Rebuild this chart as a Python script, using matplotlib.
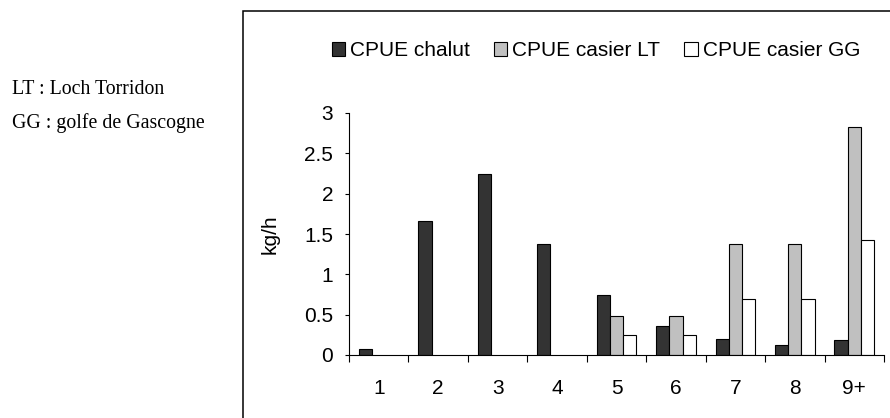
import numpy as np
import matplotlib
matplotlib.use("Agg")
import matplotlib.pyplot as plt
from matplotlib.patches import Rectangle

# data (kg/h)
categories = ["1", "2", "3", "4", "5", "6", "7", "8", "9+"]
cpue_chalut = [0.07, 1.66, 2.25, 1.37, 0.74, 0.36, 0.20, 0.13, 0.19]
cpue_casier_lt = [np.nan, np.nan, np.nan, np.nan, 0.48, 0.48, 1.37, 1.37, 2.83]
cpue_casier_gg = [np.nan, np.nan, np.nan, np.nan, 0.25, 0.25, 0.70, 0.70, 1.42]

series = [
    ("CPUE chalut", cpue_chalut, "#333333"),
    ("CPUE casier LT", cpue_casier_lt, "#c0c0c0"),
    ("CPUE casier GG", cpue_casier_gg, "#ffffff"),
]

plt.rcParams["font.family"] = ["Liberation Sans", "DejaVu Sans"]

W, H = 890, 418
fig = plt.figure(figsize=(W / 100, H / 100), dpi=100)

# axes placed in pixel terms of the reference
ax = fig.add_axes([349 / W, 1 - 355 / H, (884 - 349) / W, (355 - 113) / H])

x = np.arange(len(categories))
width = 0.222
for i, (name, vals, col) in enumerate(series):
    ax.bar(x + (i - 1) * width, vals, width, color=col, edgecolor="black",
           linewidth=0.8, label=name)

ax.set_xlim(-0.5, len(categories) - 0.5)
ax.set_ylim(0, 3)
ax.set_yticks([0, 0.5, 1, 1.5, 2, 2.5, 3])
ax.set_yticklabels(["0", "0.5", "1", "1.5", "2", "2.5", "3"])

# tick marks between categories, labels centred under groups
ax.set_xticks(np.arange(-0.5, len(categories)), labels=[""] * (len(categories) + 1))
ax.set_xticks(x, labels=categories, minor=True)
ax.tick_params(axis="x", which="major", length=5, width=0.8, direction="out")
ax.tick_params(axis="x", which="minor", length=0, pad=17, labelsize=15)
ax.tick_params(axis="y", length=3, width=0.8, pad=8.5, labelsize=15)

for s in ("top", "right"):
    ax.spines[s].set_visible(False)
for s in ("left", "bottom"):
    ax.spines[s].set_linewidth(0.8)

ax.set_ylabel("kg/h", fontsize=15)
ax.yaxis.set_label_coords(-0.129, 0.5)

fig.legend(loc="center", bbox_to_anchor=(596 / W, 1 - 51 / H), ncol=3,
           frameon=False, fontsize=15, handlelength=0.63, handleheight=0.63,
           handletextpad=0.25, columnspacing=1.15)

# outer frame (cut off on right and bottom)
fig.patches.append(Rectangle((243 / W, -0.1), 1.0, 1.1 - 11 / H, fill=False,
                             edgecolor="black", linewidth=1.1,
                             transform=fig.transFigure, figure=fig))

fig.text(12 / W, 1 - 89 / H, "LT : Loch Torridon", family="Liberation Serif",
         fontsize=14.3, va="center", ha="left")
fig.text(12 / W, 1 - 123 / H, "GG : golfe de Gascogne", family="Liberation Serif",
         fontsize=14.3, va="center", ha="left")

fig.savefig("out.png", dpi=100)
